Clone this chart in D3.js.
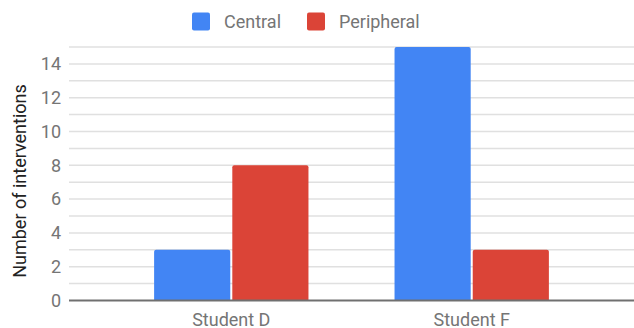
<!DOCTYPE html>
<html>
<head>
<meta charset="utf-8">
<script src="https://cdn.jsdelivr.net/npm/d3@7"></script>
<style>
  html, body { margin: 0; padding: 0; background: #fff; }
  svg { display: block; font-family: Roboto, "Noto Sans", sans-serif; }
</style>
</head>
<body>
<svg id="chart" width="634" height="328"></svg>
<script>
// Interventions per student, split by type
const students = ["Student D", "Student F"];
const seriesNames = ["Central", "Peripheral"];
const centralValues = [3, 15];
const peripheralValues = [8, 3];
const yTickLabels = [0, 2, 4, 6, 8, 10, 12, 14];
const colors = ["#4285f4", "#db4437"];

const svg = d3.select("#chart");
const plotLeft = 69, plotRight = 634, plotTop = 47, plotBottom = 300.5;

const rows = students.map((s, i) => ({
  student: s,
  values: [centralValues[i], peripheralValues[i]]
}));

const x0 = d3.scaleBand().domain(students).range([plotLeft, plotRight])
  .paddingInner(0.358).paddingOuter(0.354);
const x1 = d3.scaleBand().domain(seriesNames).range([0, x0.bandwidth()])
  .paddingInner(0.026);
const y = d3.scaleLinear().domain([0, 15]).range([plotBottom, plotTop]);

// gridlines at every unit
svg.append("g")
  .selectAll("line")
  .data(d3.range(1, 16))
  .join("line")
  .attr("x1", plotLeft).attr("x2", plotRight)
  .attr("y1", d => y(d)).attr("y2", d => y(d))
  .attr("stroke", "#e0e0e0").attr("stroke-width", 1.5);

// y axis labels
const yAxis = d3.axisLeft(y).tickValues(yTickLabels).tickSize(0).tickPadding(8);
const gy = svg.append("g").attr("transform", `translate(${plotLeft},0)`).call(yAxis);
gy.select(".domain").remove();
gy.selectAll("text")
  .attr("fill", "#757575")
  .style("font-size", "18px")
  .style("font-family", "Roboto, sans-serif");

// bars
const groups = svg.append("g")
  .selectAll("g")
  .data(rows)
  .join("g")
  .attr("transform", d => `translate(${x0(d.student)},0)`);

groups.selectAll("path")
  .data(d => d.values.map((v, i) => ({ key: seriesNames[i], value: v, i })))
  .join("path")
  .attr("fill", d => colors[d.i])
  .attr("d", d => {
    const bx = x1(d.key), bw = x1.bandwidth();
    const by = y(d.value), b = y(0), r = 2;
    return `M${bx},${b}V${by + r}Q${bx},${by} ${bx + r},${by}H${bx + bw - r}Q${bx + bw},${by} ${bx + bw},${by + r}V${b}Z`;
  });

// baseline
svg.append("line")
  .attr("x1", plotLeft).attr("x2", plotRight)
  .attr("y1", y(0)).attr("y2", y(0))
  .attr("stroke", "#707070").attr("stroke-width", 2);

// x axis labels
const xAxis = d3.axisBottom(x0).tickSize(0).tickPadding(13);
const gx = svg.append("g").attr("transform", `translate(0,${y(0)})`).call(xAxis);
gx.select(".domain").remove();
gx.selectAll("text")
  .attr("fill", "#757575")
  .style("font-size", "18px")
  .style("font-family", "Roboto, sans-serif");

// y axis title
svg.append("text")
  .attr("transform", `translate(26,181) rotate(-90)`)
  .attr("text-anchor", "middle")
  .attr("fill", "#222")
  .style("font-size", "18px")
  .text("Number of interventions");

// legend
const legendX = [192, 307];
const legend = svg.append("g")
  .selectAll("g")
  .data(seriesNames)
  .join("g")
  .attr("transform", (d, i) => `translate(${legendX[i]},12.5)`);
legend.append("rect")
  .attr("width", 18).attr("height", 18).attr("rx", 2)
  .attr("fill", (d, i) => colors[i]);
legend.append("text")
  .attr("x", 32).attr("y", 15.5)
  .attr("fill", "#757575")
  .style("font-size", "18px")
  .text(d => d);
</script>
</body>
</html>
